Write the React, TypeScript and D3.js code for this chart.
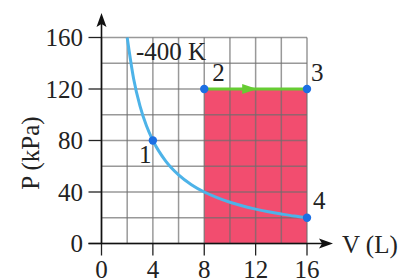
import React from "react";
import * as d3 from "d3";

const volumeTicks = [0, 4, 8, 12, 16];
const pressureTicks = [0, 40, 80, 120, 160];
const gridV = [0, 2, 4, 6, 8, 10, 12, 14, 16];
const gridP = [0, 20, 40, 60, 80, 100, 120, 140, 160];

// isotherm 400 K, sampled from the figure (V in L, P in kPa)
const isothermV = [2, 2.5, 3, 3.5, 4, 5, 6, 7, 8, 9, 10, 11, 12, 13, 14, 15, 16];
const isothermP = [160, 128, 106.7, 91.4, 80, 64, 53.3, 45.7, 40, 35.6, 32, 29.1, 26.7, 24.6, 22.9, 21.3, 20];

const states = [
  { label: "1", v: 4, p: 80 },
  { label: "2", v: 8, p: 120 },
  { label: "3", v: 16, p: 120 },
  { label: "4", v: 16, p: 20 },
];

const areaVolumes = [8, 16];
const areaPressure = 120;

const W = 403;
const H = 280;
const FONT = "Liberation Serif";

export default function App() {
  const x = d3.scaleLinear().domain([0, 16]).range([101.5, 307]);
  const y = d3.scaleLinear().domain([0, 160]).range([243.5, 37.5]);

  const curve = d3
    .line<number>()
    .x((v) => x(v))
    .y((_, i) => y(isothermP[i]))
    .curve(d3.curveMonotoneX)(isothermV);

  const labelPos: Record<string, [number, number]> = {
    "1": [-14, 22],
    "2": [8, -8],
    "3": [4, -8],
    "4": [6, -9],
  };

  const arrowX = x(11.5);

  return (
    <svg
      width={W}
      height={H}
      style={{ position: "absolute", left: 0, top: 0, fontFamily: FONT }}
    >
      <rect width={W} height={H} fill="#fff" />
      {/* work area */}
      <rect
        x={x(areaVolumes[0])}
        y={y(areaPressure)}
        width={x(areaVolumes[1]) - x(areaVolumes[0])}
        height={y(0) - y(areaPressure)}
        fill="#f24d6f"
      />
      {/* grid */}
      <g stroke="rgb(110,110,110)" strokeOpacity={0.7} strokeWidth={1.5}>
        {gridV.map((v) => (
          <line key={"gv" + v} x1={x(v)} x2={x(v)} y1={y(0)} y2={y(160)} />
        ))}
        {gridP.map((p) => (
          <line key={"gp" + p} x1={x(0)} x2={x(16)} y1={y(p)} y2={y(p)} />
        ))}
      </g>
      {/* ticks */}
      <g stroke="#222" strokeWidth={1.3}>
        {volumeTicks.map((v) => (
          <line key={"tv" + v} x1={x(v)} x2={x(v)} y1={y(0)} y2={y(0) + 12} />
        ))}
        {pressureTicks.map((p) => (
          <line key={"tp" + p} x1={x(0) - 13} x2={x(0)} y1={y(p)} y2={y(p)} />
        ))}
      </g>
      {/* axes */}
      <g stroke="#111" strokeWidth={1.6}>
        <line x1={x(0) - 13} x2={322} y1={y(0)} y2={y(0)} />
        <line x1={x(0)} x2={x(0)} y1={y(0)} y2={24} />
      </g>
      <path d={`M333,${y(0)} L319,${y(0) - 5} L322,${y(0)} L319,${y(0) + 5} Z`} fill="#111" />
      <path d={`M${x(0)},13 L${x(0) - 5},27 L${x(0)},24 L${x(0) + 5},27 Z`} fill="#111" />
      {/* tick labels */}
      <g fontSize={25} fill="#222" style={{ fontFamily: FONT }}>
        {volumeTicks.map((v) => (
          <text key={"lv" + v} x={x(v)} y={278} textAnchor="middle">
            {v}
          </text>
        ))}
        {pressureTicks.map((p) => (
          <text key={"lp" + p} x={83} y={y(p) + 8.5} textAnchor="end">
            {p}
          </text>
        ))}
        <text x={342} y={253}>
          V (L)
        </text>
        <text transform="translate(39,153) rotate(-90)" textAnchor="middle">
          P (kPa)
        </text>
        <text x={136} y={60}>
          -400 K
        </text>
      </g>
      {/* isotherm */}
      <path d={curve ?? ""} fill="none" stroke="#4db3e8" strokeWidth={3} />
      {/* process 2 -> 3 */}
      <line
        x1={x(8)}
        x2={x(16)}
        y1={y(120)}
        y2={y(120)}
        stroke="#66cc33"
        strokeWidth={3}
      />
      <path
        d={`M${arrowX + 8},${y(120)} L${arrowX - 7},${y(120) - 5} L${arrowX - 7},${y(120) + 5} Z`}
        fill="#66cc33"
      />
      {/* states */}
      {states.map((s) => (
        <g key={s.label}>
          <circle cx={x(s.v)} cy={y(s.p)} r={4.2} fill="#1c6fe3" />
          <text
            x={x(s.v) + labelPos[s.label][0]}
            y={y(s.p) + labelPos[s.label][1]}
            fontSize={25}
            fill="#222"
            style={{ fontFamily: FONT }}
          >
            {s.label}
          </text>
        </g>
      ))}
    </svg>
  );
}
